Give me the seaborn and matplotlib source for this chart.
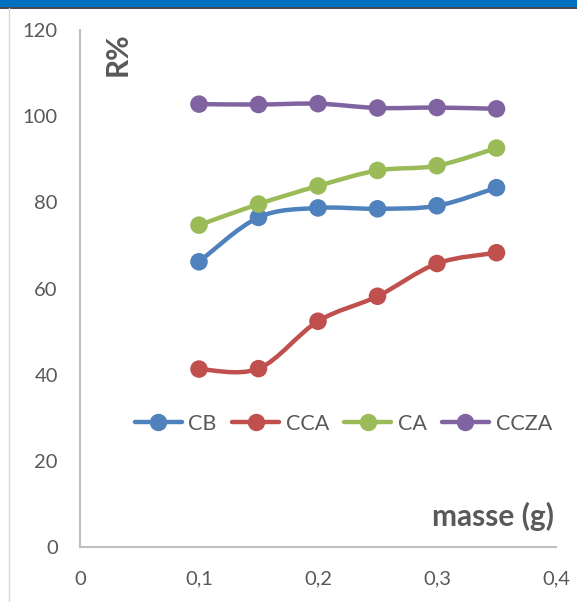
import numpy as np
import pandas as pd
import matplotlib
matplotlib.use("Agg")
import matplotlib.pyplot as plt
from matplotlib.path import Path
from matplotlib.patches import PathPatch, Rectangle
from matplotlib.lines import Line2D
import seaborn as sns

# =============================================================================
# DATA
# =============================================================================
MASSE = [0.10, 0.15, 0.20, 0.25, 0.30, 0.35]
R_CB = [66.2, 76.5, 78.7, 78.5, 79.2, 83.4]
R_CCA = [41.3, 41.4, 52.4, 58.2, 65.8, 68.3]
R_CA = [74.7, 79.6, 83.8, 87.4, 88.5, 92.6]
R_CCZA = [102.8, 102.7, 102.9, 101.9, 102.0, 101.7]

SERIES = ["CB", "CCA", "CA", "CCZA"]
VALUES = [R_CB, R_CCA, R_CA, R_CCZA]
COLORS = {"CB": "#4F81BD", "CCA": "#C0504D", "CA": "#9BBB59", "CCZA": "#8064A2"}

X_TICKS = [0, 0.1, 0.2, 0.3, 0.4]
X_TICKLABELS = ["0", "0,1", "0,2", "0,3", "0,4"]
Y_TICKS = [0, 20, 40, 60, 80, 100, 120]

TXT = "#595959"
FS_TICK = 14.5
FS_LEGEND = 15.5
FS_LABEL = 21.5


def smooth_path(xs, ys):
    """Excel-like smoothed line: Catmull-Rom segments as cubic Bezier."""
    pts = np.column_stack([xs, ys])
    n = len(pts)
    verts = [pts[0]]
    codes = [Path.MOVETO]
    for i in range(n - 1):
        p0 = pts[i - 1] if i > 0 else pts[i]
        p1 = pts[i]
        p2 = pts[i + 1]
        p3 = pts[i + 2] if i + 2 < n else pts[i + 1]
        c1 = p1 + (p2 - p0) / 6.0
        c2 = p2 - (p3 - p1) / 6.0
        verts += [c1, c2, p2]
        codes += [Path.CURVE4] * 3
    return Path(verts, codes)


def main() -> None:
    df = pd.DataFrame(
        [
            {"masse": m, "R": v, "serie": s}
            for s, vals in zip(SERIES, VALUES)
            for m, v in zip(MASSE, vals)
        ]
    )

    sns.set_theme(style="white")
    plt.rcParams["font.family"] = ["Lato", "DejaVu Sans"]

    fig = plt.figure(figsize=(5.77, 6.02), dpi=100)
    W, H = 577, 602

    # window-like frame: blue band on top, light grey border
    fig.patches.append(Rectangle((0, 1 - 7 / H), 1, 7 / H, transform=fig.transFigure,
                                 facecolor="#0070C0", edgecolor="none", zorder=0))
    fig.add_artist(Line2D([0, 1], [1 - 7.5 / H, 1 - 7.5 / H], transform=fig.transFigure,
                          color="#1F2A36", linewidth=1.2))
    fig.add_artist(Line2D([8.5 / W, 8.5 / W], [0, 1 - 8 / H], transform=fig.transFigure,
                          color="#D9D9D9", linewidth=1.0))

    ax = fig.add_axes([80 / W, 55 / H, 476 / W, 517 / H])

    for s, vals in zip(SERIES, VALUES):
        patch = PathPatch(smooth_path(MASSE, vals), facecolor="none",
                          edgecolor=COLORS[s], linewidth=3.2,
                          capstyle="round", joinstyle="round", zorder=2)
        ax.add_patch(patch)

    sns.scatterplot(data=df, x="masse", y="R", hue="serie", palette=COLORS,
                    s=160, edgecolor="none", legend=False, ax=ax, zorder=3)

    ax.set_xlim(0, 0.4)
    ax.set_ylim(0, 120)
    ax.set_xticks(X_TICKS)
    ax.set_xticklabels(X_TICKLABELS)
    ax.set_yticks(Y_TICKS)
    ax.tick_params(axis="both", length=0, labelsize=FS_TICK, colors=TXT)
    ax.tick_params(axis="y", pad=16)
    ax.tick_params(axis="x", pad=17)
    ax.set_xlabel("")
    ax.set_ylabel("")
    for side in ["top", "right"]:
        ax.spines[side].set_visible(False)
    for side in ["left", "bottom"]:
        ax.spines[side].set_color("#BFBFBF")
        ax.spines[side].set_linewidth(1.5)

    ax.text(0.995, 0.06, "masse (g)", transform=ax.transAxes, ha="right",
            va="center", fontsize=FS_LABEL, fontweight="bold", color=TXT)
    ax.text(0.08, 0.995, "R%", transform=ax.transAxes, ha="center", va="top",
            rotation=90, fontsize=FS_LABEL, fontweight="bold", color=TXT)

    handles = [
        Line2D([0], [0], color=COLORS[s], linewidth=3.2, marker="o",
               markersize=11.5, label=s)
        for s in SERIES
    ]
    leg = ax.legend(handles=handles, loc="center", bbox_to_anchor=(0.553, 0.238),
                    ncol=4, frameon=False, fontsize=FS_LEGEND, handlelength=2.2,
                    handletextpad=0.3, columnspacing=0.7)
    for t in leg.get_texts():
        t.set_color(TXT)

    fig.savefig("out.png", dpi=100)
    plt.close(fig)


if __name__ == "__main__":
    main()
